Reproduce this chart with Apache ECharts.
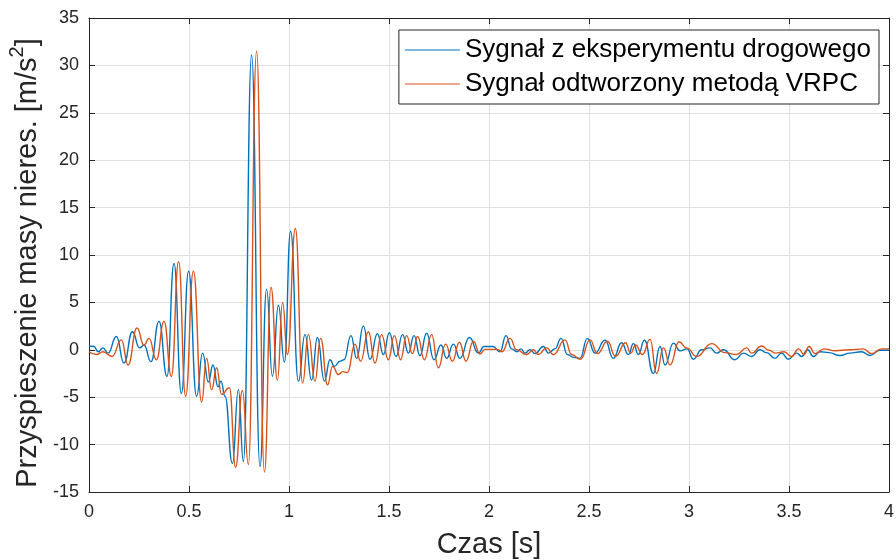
<!DOCTYPE html>
<html>
<head>
<meta charset="utf-8">
<script src="https://cdn.jsdelivr.net/npm/echarts@6/dist/echarts.min.js"></script>
<style>
html,body{margin:0;padding:0;background:#fff;}
#chart{width:896px;height:560px;}
</style>
</head>
<body>
<div id="chart"></div>
<script>
// Time (s) and acceleration (m/s^2) samples (extrema)
var blueT = [0.000,0.025,0.045,0.070,0.095,0.137,0.175,0.217,0.253,0.275,0.310,0.350,0.390,0.425,0.462,0.498,0.538,0.568,0.597,0.620,0.645,0.660,0.680,0.717,0.747,0.772,0.813,0.855,0.888,0.917,0.947,0.977,1.008,1.047,1.080,1.113,1.142,1.177,1.205,1.227,1.255,1.275,1.310,1.338,1.372,1.405,1.442,1.472,1.502,1.535,1.568,1.597,1.625,1.655,1.688,1.725,1.760,1.788,1.822,1.855,1.902,1.947,1.975,2.020,2.055,2.085,2.113,2.140,2.160,2.180,2.205,2.230,2.272,2.297,2.330,2.360,2.392,2.425,2.455,2.492,2.530,2.580,2.622,2.663,2.697,2.722,2.747,2.777,2.822,2.855,2.880,2.922,2.955,2.990,3.022,3.063,3.105,3.138,3.172,3.230,3.272,3.313,3.355,3.388,3.430,3.463,3.497,3.538,3.563,3.593,3.622,3.655,3.700,3.755,3.805,3.862,3.905,3.955,4.000];
var blueV = [0.4,0.35,-0.2,0.2,-0.35,1.4,-1.4,1.9,0.2,0.5,-1.25,3.0,-2.8,9.1,-4.6,8.3,-4.9,-0.35,-3.4,-1.6,-3.9,-3.3,-4.9,-12.0,-4.2,-11.8,31.1,-12.3,6.4,-2.8,4.7,-1.3,12.5,-3.3,1.6,-3.2,1.3,-3.3,-1.05,-1.75,-1.2,-1.05,1.5,-0.9,2.5,-1.0,1.7,-0.5,1.8,-0.7,1.6,-0.35,1.5,-0.6,1.75,-1.05,0.5,-0.9,0.6,-0.9,1.3,-0.35,0.35,0.35,-0.2,1.5,0.1,-0.2,0.1,-0.35,0.0,-0.4,0.35,-0.35,0.1,1.2,-0.5,-0.8,-0.9,1.2,-0.35,1.0,-0.9,0.75,-0.5,0.65,-0.5,1.0,-2.5,0.35,-1.6,0.7,-0.1,0.1,-1.0,0.0,0.2,-0.35,0.0,-1.05,-0.35,-0.7,0.0,-0.3,-0.9,-0.35,-1.0,-0.35,-0.7,0.0,-0.7,-0.2,-0.3,-0.6,-0.35,-0.2,-0.6,-0.05,-0.05];

var orangeT = [0.000,0.037,0.070,0.115,0.162,0.195,0.240,0.275,0.300,0.337,0.375,0.412,0.448,0.483,0.522,0.563,0.588,0.613,0.638,0.663,0.702,0.733,0.767,0.797,0.838,0.877,0.910,0.942,0.968,0.992,1.032,1.068,1.097,1.130,1.158,1.193,1.218,1.247,1.270,1.292,1.330,1.358,1.397,1.430,1.463,1.497,1.527,1.558,1.588,1.617,1.643,1.677,1.713,1.747,1.783,1.817,1.852,1.885,1.922,1.955,1.980,2.040,2.065,2.105,2.138,2.188,2.222,2.247,2.288,2.322,2.380,2.413,2.458,2.505,2.542,2.592,2.633,2.683,2.708,2.733,2.767,2.805,2.838,2.872,2.905,2.950,2.988,3.038,3.113,3.180,3.238,3.288,3.313,3.363,3.400,3.433,3.475,3.513,3.548,3.575,3.600,3.630,3.675,3.733,3.800,3.872,3.912,3.963,4.000];
var orangeV = [-0.2,-0.5,-0.2,-0.7,1.05,-1.6,2.3,0.5,1.2,-1.05,3.0,-2.8,9.3,-4.9,8.3,-5.5,-0.9,-4.2,-1.9,-4.7,-4.0,-12.4,-4.3,-12.1,31.5,-12.9,6.6,-3.2,5.0,-0.5,12.8,-3.5,1.6,-3.3,1.2,-3.7,-1.75,-2.6,-2.3,-2.4,0.6,-1.2,1.9,-1.4,1.6,-1.05,1.5,-1.05,1.5,-0.4,1.4,-1.05,1.6,-1.9,0.6,-1.2,0.8,-1.2,0.9,-0.45,0.05,0.05,-0.2,1.2,0.0,-0.5,0.0,-0.5,0.2,-0.5,1.05,-0.5,-1.0,1.05,-0.4,0.9,-0.7,0.75,-0.35,0.5,-0.5,1.1,-2.5,0.2,-1.6,0.85,0.2,-0.7,0.65,-0.3,-0.5,0.2,-0.35,0.4,-0.05,-0.35,-0.2,-0.7,0.1,-0.5,0.35,-0.4,0.1,-0.1,0.0,0.1,-0.4,0.1,0.1];

var xTicks = [0,0.5,1,1.5,2,2.5,3,3.5,4];
var yTicks = [-15,-10,-5,0,5,10,15,20,25,30,35];
var seriesNames = ['Sygnał z eksperymentu drogowego','Sygnał odtworzony metodą VRPC'];

function pairs(t, v){ var out=[]; for(var i=0;i<t.length;i++){ out.push([t[i], v[i]]); } return out; }

var FONT = '"Liberation Sans", Arial, Helvetica, sans-serif';
var AX = '#262626';
var GRID = '#dfdfdf';

var chart = echarts.init(document.getElementById('chart'), null, {renderer:'canvas'});

function baseX(extra){
  return Object.assign({
    type:'value', min:xTicks[0], max:xTicks[xTicks.length-1], interval:0.5,
    axisLine:{show:true, onZero:false, lineStyle:{color:AX, width:1}},
    axisTick:{show:true, inside:true, length:6, lineStyle:{color:AX}},
    splitLine:{show:false}
  }, extra);
}
function baseY(extra){
  return Object.assign({
    type:'value', min:yTicks[0], max:yTicks[yTicks.length-1], interval:5,
    axisLine:{show:true, onZero:false, lineStyle:{color:AX, width:1}},
    axisTick:{show:true, inside:true, length:6, lineStyle:{color:AX}},
    splitLine:{show:false}
  }, extra);
}

chart.setOption({
  animation:false,
  backgroundColor:'#ffffff',
  grid:{left:89, right:7, top:18, bottom:68, containLabel:false, outerBoundsMode:'none'},
  legend:{
    data:seriesNames,
    orient:'vertical',
    right:17, top:30,
    padding:[7,8,7,6],
    itemGap:8,
    itemWidth:55, itemHeight:14,
    icon:'path://M0,0 L100,0 L100,2 L0,2 Z',
    backgroundColor:'#ffffff',
    borderColor:AX, borderWidth:1,
    textStyle:{fontFamily:FONT, fontSize:26, color:'#000000'}
  },
  xAxis:[
    baseX({
      position:'bottom',
      axisLabel:{show:true, color:AX, fontFamily:FONT, fontSize:18, margin:11,
        formatter:function(v){ return String(v); }},
      splitLine:{show:true, lineStyle:{color:GRID, width:1}},
      name:'Czas [s]', nameLocation:'middle', nameGap:38,
      nameTextStyle:{fontFamily:FONT, fontSize:29, color:AX}
    }),
    baseX({position:'top', axisLabel:{show:false}})
  ],
  yAxis:[
    baseY({
      position:'left',
      axisLabel:{show:true, color:AX, fontFamily:FONT, fontSize:18, margin:10},
      splitLine:{show:true, lineStyle:{color:GRID, width:1}},
      name:'{a|Przyspieszenie masy nieres. [m/s}{s|2}{a|]}',
      nameLocation:'middle', nameGap:31,
      nameTextStyle:{
        color:AX,
        padding:[0,16,0,0],
        rich:{
          a:{fontFamily:FONT, fontSize:29, color:AX, verticalAlign:'bottom', lineHeight:35},
          s:{fontFamily:FONT, fontSize:20, color:AX, verticalAlign:'top', lineHeight:35, padding:[0,0,14,0]}
        }
      }
    }),
    baseY({position:'right', axisLabel:{show:false}})
  ],
  series:[
    {
      name:seriesNames[0], type:'line', xAxisIndex:0, yAxisIndex:0,
      data:pairs(blueT, blueV),
      showSymbol:false, symbol:'none',
      smooth:0.5, smoothMonotone:'x',
      lineStyle:{color:'#0072BD', width:1.4},
      itemStyle:{color:'#0072BD'}
    },
    {
      name:seriesNames[1], type:'line', xAxisIndex:0, yAxisIndex:0,
      data:pairs(orangeT, orangeV),
      showSymbol:false, symbol:'none',
      smooth:0.5, smoothMonotone:'x',
      lineStyle:{color:'#D95319', width:1.4},
      itemStyle:{color:'#D95319'}
    }
  ]
});
</script>
</body>
</html>
